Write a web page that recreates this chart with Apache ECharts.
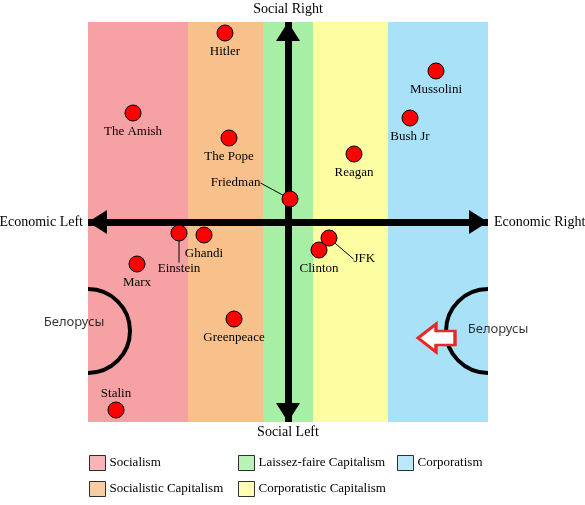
<!DOCTYPE html>
<html>
<head>
<meta charset="utf-8">
<script src="https://cdn.jsdelivr.net/npm/echarts@6/dist/echarts.min.js"></script>
<style>
  html, body { margin: 0; padding: 0; background: #fff; }
  #chart { width: 585px; height: 505px; }
</style>
</head>
<body>
<div id="chart"></div>
<script>
// 政治坐标数据
const bandNames = ['Socialism', 'Socialistic Capitalism', 'Laissez-faire Capitalism', 'Corporatistic Capitalism', 'Corporatism'];
const bandStart = [-10, -5, -1.25, 1.25, 5];
const bandEnd = [-5, -1.25, 1.25, 5, 10];
const bandColors = ['#f6a2a4', '#f8c18c', '#a8efa6', '#fdfda2', '#a9e2f8'];

const people = ['Hitler', 'The Amish', 'The Pope', 'Friedman', 'Mussolini', 'Bush Jr', 'Reagan',
  'Einstein', 'Ghandi', 'Marx', 'Greenpeace', 'Stalin', 'Clinton', 'JFK'];
const econ = [-3.15, -7.75, -2.95, 0.1, 7.4, 6.1, 3.3, -5.45, -4.2, -7.55, -2.7, -8.6, 1.55, 2.05];
const social = [9.45, 5.45, 4.2, 1.15, 7.55, 5.2, 3.4, -0.55, -0.65, -2.1, -4.85, -9.4, -1.4, -0.8];

// 半圆 (白俄罗斯)
const arcX = [-10, 10];
const arcY = [-5.45, -5.45];
const arcR = [2.1, 2.1];
const arcSide = [1, -1];
const belLabel = ['Белорусы', 'Белорусы'];
const belX = [-10.7, 10.5];
const belY = [-5.0, -5.35];
const redArrow = [7.425, -5.8];

// 标签偏移
const labelPos = { 'Friedman': 'left', 'JFK': 'right', 'Stalin': 'top' };
const labelMove = { 'Friedman': [-17, -16], 'JFK': [12, 21], 'Einstein': [0, 17] };

const serif = '"Liberation Serif", "Times New Roman", serif';

let chart = echarts.init(document.getElementById('chart'));

let bandSeries = bandNames.map((name, i) => ({
  name: name,
  type: 'scatter',
  data: [],
  itemStyle: { color: bandColors[i] },
  z: 1,
  markArea: {
    silent: true,
    itemStyle: { color: bandColors[i], opacity: 1 },
    label: { show: false },
    data: [[{ xAxis: bandStart[i] }, { xAxis: bandEnd[i] }]]
  }
}));

let pointData = people.map((name, i) => {
  let item = { name: name, value: [econ[i], social[i]] };
  if (labelPos[name]) item.label = { position: labelPos[name], distance: name === 'Stalin' ? 1 : 4 };
  if (labelMove[name]) item.labelLine = { show: true, lineStyle: { color: '#000', width: 1 } };
  return item;
});

let legendBase = {
  orient: 'vertical',
  padding: 0,
  itemWidth: 16,
  itemHeight: 15,
  itemGap: 10,
  icon: 'rect',
  selectedMode: false,
  itemStyle: { borderColor: '#000', borderWidth: 1 },
  textStyle: { fontFamily: serif, fontSize: 13, color: '#000', padding: [2, 0, 0, -1] }
};

let axisBase = {
  type: 'value', min: -10, max: 10,
  splitLine: { show: false }, axisTick: { show: false }, axisLabel: { show: false },
  nameTextStyle: { fontFamily: serif, fontSize: 14, color: '#000' },
  z: 4
};

let option = {
  animation: false,
  grid: { left: 88, top: 22, width: 400, height: 400, outerBoundsMode: 'none', containLabel: false },
  legend: [
    Object.assign({ left: 89, top: 455, data: [bandNames[0], bandNames[1]] }, legendBase),
    Object.assign({ left: 238, top: 455, data: [bandNames[2], bandNames[3]] }, legendBase),
    Object.assign({ left: 397, top: 455, data: [bandNames[4]] }, legendBase)
  ],
  xAxis: [
    Object.assign({}, axisBase, {
      name: 'Economic Right', nameLocation: 'end', nameGap: 6,
      axisLine: { show: true, onZero: true, symbol: ['triangle', 'triangle'], symbolSize: [24, 19],
        symbolOffset: [9.5, -9.5], lineStyle: { color: '#000', width: 7, cap: 'butt' } }
    }),
    Object.assign({}, axisBase, {
      name: 'Economic Left', nameLocation: 'start', nameGap: 5,
      axisLine: { show: true, onZero: true, lineStyle: { color: 'rgba(0,0,0,0)', width: 0 } }
    })
  ],
  yAxis: [
    Object.assign({}, axisBase, {
      name: 'Social Right', nameLocation: 'end', nameGap: 6,
      axisLine: { show: true, onZero: true, symbol: ['triangle', 'triangle'], symbolSize: [24, 19],
        symbolOffset: [9.5, -9.5], lineStyle: { color: '#000', width: 7, cap: 'butt' } }
    }),
    Object.assign({}, axisBase, {
      name: 'Social Left', nameLocation: 'start', nameGap: 3,
      axisLine: { show: true, onZero: true, lineStyle: { color: 'rgba(0,0,0,0)', width: 0 } }
    })
  ],
  series: bandSeries.concat([
    {
      name: 'arcs',
      type: 'custom',
      z: 5,
      silent: true,
      data: arcX.map((x, i) => [x, arcY[i], arcR[i], arcSide[i]]),
      renderItem: function (params, api) {
        let c = api.coord([api.value(0), api.value(1)]);
        let r = api.size([api.value(2), 0])[0];
        let right = api.value(3) > 0;
        return {
          type: 'arc',
          shape: {
            cx: c[0], cy: c[1], r: r,
            startAngle: right ? -Math.PI / 2 : Math.PI / 2,
            endAngle: right ? Math.PI / 2 : Math.PI * 1.5,
            clockwise: true
          },
          style: { stroke: '#000', lineWidth: 4, fill: null }
        };
      }
    },
    {
      name: 'bel',
      type: 'scatter',
      z: 6,
      silent: true,
      clip: false,
      symbolSize: 0,
      data: belLabel.map((t, i) => ({ name: t, value: [belX[i], belY[i]] })),
      label: { show: true, position: 'inside', formatter: '{b}',
        fontFamily: '"Noto Sans", "Open Sans", sans-serif', fontSize: 13, color: '#000' }
    },
    {
      name: 'arrow',
      type: 'scatter',
      z: 6,
      silent: true,
      symbol: 'path://M0,14 L18,0 L18,7 L37,7 L37,21 L18,21 L18,28 Z',
      symbolSize: [37, 28],
      itemStyle: { color: '#fff', borderColor: '#e82828', borderWidth: 3, opacity: 1 },
      data: [redArrow]
    },
    {
      name: 'people',
      type: 'scatter',
      z: 8,
      silent: true,
      symbolSize: 16,
      itemStyle: { color: '#ff0000', borderColor: '#000', borderWidth: 1, opacity: 1 },
      label: { show: true, position: 'bottom', distance: 4, formatter: '{b}',
        fontFamily: serif, fontSize: 13, color: '#000' },
      labelLayout: function (params) {
        let m = labelMove[people[params.dataIndex]];
        return m ? { dx: m[0], dy: m[1] } : {};
      },
      data: pointData
    }
  ])
};

chart.setOption(option);
</script>
</body>
</html>
